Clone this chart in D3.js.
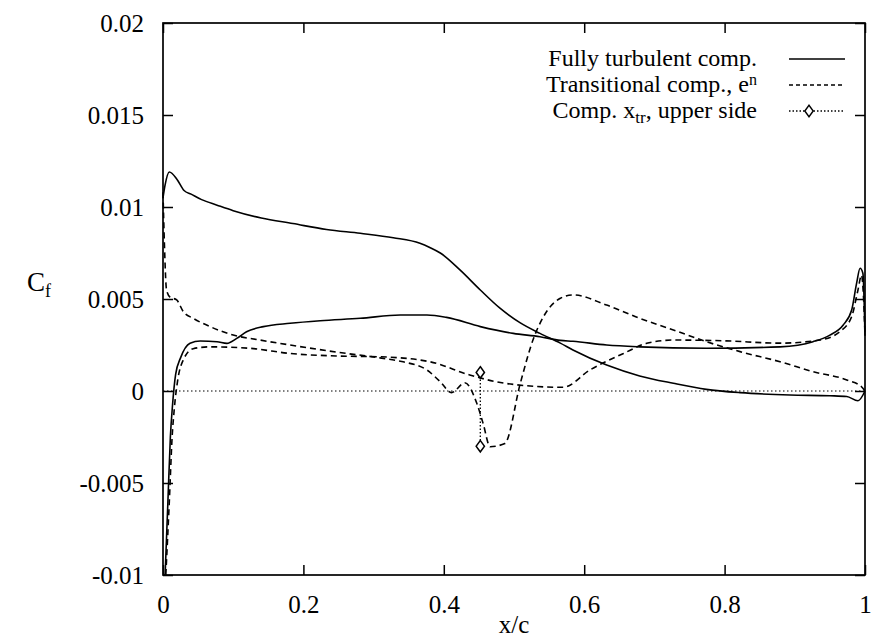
<!DOCTYPE html>
<html>
<head>
<meta charset="utf-8">
<script src="https://cdn.jsdelivr.net/npm/d3@7"></script>
<style>
  html, body { margin: 0; padding: 0; background: #fff; }
  svg { display: block; }
  text { font-family: "Liberation Serif", "Times New Roman", Times, serif; fill: #000; }
</style>
</head>
<body>
<svg id="chart" width="871" height="641" font-family='"Liberation Serif", "Times New Roman", serif'></svg>
<script>
// ---- data ----
const xTicks = [0, 0.2, 0.4, 0.6, 0.8, 1];
const xTickLabels = ["0", "0.2", "0.4", "0.6", "0.8", "1"];
const yTicks = [-0.01, -0.005, 0, 0.005, 0.01, 0.015, 0.02];
const yTickLabels = ["-0.01", "-0.005", "0", "0.005", "0.01", "0.015", "0.02"];

// Fully turbulent computation, upper side
const turbUpperX = [0, 0.003, 0.009, 0.02, 0.03, 0.04, 0.055, 0.077, 0.1, 0.14, 0.185, 0.233, 0.281, 0.328, 0.366, 0.38, 0.395, 0.423, 0.452, 0.48, 0.509, 0.537, 0.566, 0.584, 0.632, 0.679, 0.727, 0.774, 0.822, 0.893, 0.95, 0.974, 0.99, 1.0];
const turbUpperY = [0.0105, 0.0112, 0.0119, 0.0115, 0.0109, 0.0107, 0.0104, 0.0101, 0.0098, 0.0094, 0.0091, 0.00878, 0.00857, 0.00833, 0.00803, 0.0078, 0.0075, 0.00658, 0.00549, 0.0045, 0.0037, 0.00313, 0.0026, 0.00223, 0.00141, 0.00082, 0.00042, 0.00009, -0.00009, -0.00022, -0.00026, -0.0003, -0.00053, 0.0];

// Fully turbulent computation, lower side
const turbLowerX = [0.003, 0.007, 0.0105, 0.0135, 0.018, 0.025, 0.0385, 0.053, 0.077, 0.091, 0.105, 0.119, 0.143, 0.181, 0.224, 0.281, 0.338, 0.376, 0.404, 0.452, 0.499, 0.537, 0.566, 0.584, 0.632, 0.679, 0.774, 0.879, 0.926, 0.95, 0.969, 0.981, 0.988, 0.993, 0.997, 1.0];
const turbLowerY = [-0.01, -0.006, -0.0025, -0.0008, 0.0009, 0.0018, 0.0026, 0.00272, 0.00268, 0.00259, 0.00286, 0.00322, 0.0035, 0.00368, 0.00382, 0.00395, 0.00413, 0.00413, 0.004, 0.0035, 0.00313, 0.00295, 0.00275, 0.0027, 0.0025, 0.0024, 0.00232, 0.0024, 0.00268, 0.00304, 0.00359, 0.0044, 0.00585, 0.00667, 0.0064, 0.003];

// Transitional computation (e^n), upper side
const transUpperX = [0, 0.002, 0.005, 0.01, 0.0195, 0.029, 0.043, 0.067, 0.1, 0.138, 0.181, 0.25, 0.309, 0.34, 0.376, 0.395, 0.411, 0.43, 0.447, 0.456, 0.466, 0.487, 0.509, 0.527, 0.542, 0.566, 0.584, 0.632, 0.679, 0.727, 0.774, 0.822, 0.879, 0.926, 0.974, 0.995, 1.0];
const transUpperY = [0.0108, 0.008, 0.0055, 0.0051, 0.00495, 0.00431, 0.00395, 0.0035, 0.00304, 0.00277, 0.0025, 0.0021, 0.0018, 0.0016, 0.00114, 0.0005, -0.00009, 0.00045, -0.00067, -0.00176, -0.00303, -0.00285, 0.00042, 0.00277, 0.00404, 0.00504, 0.00522, 0.00467, 0.00395, 0.00332, 0.00268, 0.00214, 0.00159, 0.00105, 0.0006, 0.00023, 0.0];

// Transitional computation (e^n), lower side
const transLowerX = [0.004, 0.009, 0.013, 0.016, 0.021, 0.029, 0.043, 0.067, 0.124, 0.181, 0.25, 0.309, 0.38, 0.437, 0.475, 0.523, 0.57, 0.608, 0.656, 0.689, 0.727, 0.798, 0.879, 0.936, 0.964, 0.981, 0.99, 0.995, 0.998, 1.0];
const transLowerY = [-0.01, -0.006, -0.0025, -0.001, 0.0006, 0.0017, 0.0023, 0.0024, 0.00232, 0.00204, 0.0019, 0.00186, 0.00159, 0.00087, 0.0005, 0.00027, 0.0002, 0.00114, 0.00204, 0.00259, 0.00277, 0.00273, 0.0026, 0.00277, 0.00322, 0.00404, 0.00549, 0.0063, 0.005, 0.003];

// Computed transition location, upper side
const xtrX = [0.452, 0.452];
const xtrY = [0.00101, -0.003];

// Zero line
const zeroX = [0, 1];
const zeroY = [0, 0];

const legendLabels = ["Fully turbulent comp.", "Transitional comp., e", "Comp. x"];

// ---- layout ----
const svg = d3.select("#chart");
const L = 163, T = 23, W = 702, H = 552;
const x = d3.scaleLinear().domain([0, 1]).range([L, L + W]);
const y = d3.scaleLinear().domain([-0.01, 0.02]).range([T + H, T]);
const FS = 25;   // tick labels
const LFS = 24;  // legend
const SERIF = '"Liberation Serif", "Times New Roman", serif';

const g = svg.append("g");

const zip = (xs, ys) => xs.map((v, i) => [v, ys[i]]);
const line = d3.line().x(d => x(d[0])).y(d => y(d[1]));
const smooth = d3.line().x(d => x(d[0])).y(d => y(d[1])).curve(d3.curveMonotoneX);

// zero axis (dotted)
g.append("path").attr("d", line(zip(zeroX, zeroY)))
  .attr("fill", "none").attr("stroke", "#000").attr("stroke-width", 1)
  .attr("stroke-dasharray", "1.5,2.5");

// axes
function styleAxis(sel) {
  sel.attr("font-family", SERIF);
  sel.select(".domain").remove();
  sel.selectAll(".tick line").attr("stroke", "#000").attr("stroke-width", 1.5);
  sel.selectAll(".tick text").attr("font-size", FS).attr("fill", "#000").attr("font-family", SERIF);
}
const fmtX = (d, i) => xTickLabels[i];
const fmtY = (d, i) => yTickLabels[i];

g.append("g").attr("transform", `translate(0,${T + H})`)
  .call(d3.axisBottom(x).tickValues(xTicks).tickFormat(fmtX).tickSizeInner(-10).tickSizeOuter(0).tickPadding(20))
  .call(styleAxis);
g.append("g").attr("transform", `translate(0,${T})`)
  .call(d3.axisTop(x).tickValues(xTicks).tickFormat("").tickSizeInner(-10).tickSizeOuter(0))
  .call(styleAxis);
g.append("g").attr("transform", `translate(${L},0)`)
  .call(d3.axisLeft(y).tickValues(yTicks).tickFormat(fmtY).tickSizeInner(-10).tickSizeOuter(0).tickPadding(19))
  .call(styleAxis);
g.append("g").attr("transform", `translate(${L + W},0)`)
  .call(d3.axisRight(y).tickValues(yTicks).tickFormat("").tickSizeInner(-10).tickSizeOuter(0))
  .call(styleAxis);

// frame
g.append("rect").attr("x", L).attr("y", T).attr("width", W).attr("height", H)
  .attr("fill", "none").attr("stroke", "#000").attr("stroke-width", 1.7);

// curves
const solidStyle = p => p.attr("fill", "none").attr("stroke", "#000").attr("stroke-width", 1.6);
const dashStyle = p => p.attr("fill", "none").attr("stroke", "#000").attr("stroke-width", 1.6).attr("stroke-dasharray", "6,4");

g.append("path").attr("d", smooth(zip(turbUpperX, turbUpperY))).call(solidStyle);
g.append("path").attr("d", smooth(zip(turbLowerX, turbLowerY))).call(solidStyle);
g.append("path").attr("d", smooth(zip(transUpperX, transUpperY))).call(dashStyle);
g.append("path").attr("d", smooth(zip(transLowerX, transLowerY))).call(dashStyle);

// x_tr
const diamond = d3.symbol().type(d3.symbolDiamond).size(38);
g.append("path").attr("d", line(zip(xtrX, xtrY)))
  .attr("fill", "none").attr("stroke", "#000").attr("stroke-width", 1.3).attr("stroke-dasharray", "1.5,2");
g.selectAll(".xtr").data(zip(xtrX, xtrY)).enter().append("path")
  .attr("transform", d => `translate(${x(d[0])},${y(d[1])}) scale(1.25,1)`)
  .attr("d", diamond).attr("fill", "#fff").attr("stroke", "#000").attr("stroke-width", 1.3);

// legend
const lgTextX = 757, lgX1 = 789, lgX2 = 845;
const rows = [59, 85, 111];
const lg = g.append("g").attr("font-family", SERIF);
// row 1
lg.append("text").attr("x", lgTextX).attr("y", rows[0] + 7).attr("text-anchor", "end")
  .attr("font-size", LFS).text(legendLabels[0]);
lg.append("line").attr("x1", lgX1).attr("x2", lgX2).attr("y1", rows[0]).attr("y2", rows[0])
  .attr("stroke", "#000").attr("stroke-width", 1.5);
// row 2
const t2 = lg.append("text").attr("x", lgTextX).attr("y", rows[1] + 7).attr("text-anchor", "end")
  .attr("font-size", LFS);
t2.append("tspan").text(legendLabels[1]);
t2.append("tspan").attr("dy", -7).attr("font-size", 16).text("n");
lg.append("line").attr("x1", lgX1).attr("x2", lgX2).attr("y1", rows[1]).attr("y2", rows[1])
  .attr("stroke", "#000").attr("stroke-width", 1.5).attr("stroke-dasharray", "4,3");
// row 3
const t3 = lg.append("text").attr("x", lgTextX).attr("y", rows[2] + 7).attr("text-anchor", "end")
  .attr("font-size", LFS);
t3.append("tspan").text(legendLabels[2]);
t3.append("tspan").attr("dy", 5).attr("font-size", 17).text("tr");
t3.append("tspan").attr("dy", -5).text(", upper side");
lg.append("line").attr("x1", lgX1).attr("x2", lgX2).attr("y1", rows[2]).attr("y2", rows[2])
  .attr("stroke", "#000").attr("stroke-width", 1.3).attr("stroke-dasharray", "1.5,2");
lg.append("path").attr("transform", `translate(${(lgX1 + lgX2) / 2 - 8},${rows[2]}) scale(1.25,1)`)
  .attr("d", diamond).attr("fill", "#fff").attr("stroke", "#000").attr("stroke-width", 1.3);

// axis titles
svg.append("text").attr("x", (L + L + W) / 2).attr("y", 633).attr("text-anchor", "middle")
  .attr("font-family", SERIF).attr("font-size", FS).text("x/c");
const yl = svg.append("text").attr("x", 27).attr("y", 291).attr("font-size", 27).attr("font-family", SERIF);
yl.append("tspan").text("C");
yl.append("tspan").attr("dy", 6).attr("font-size", 18).text("f");
</script>
</body>
</html>
